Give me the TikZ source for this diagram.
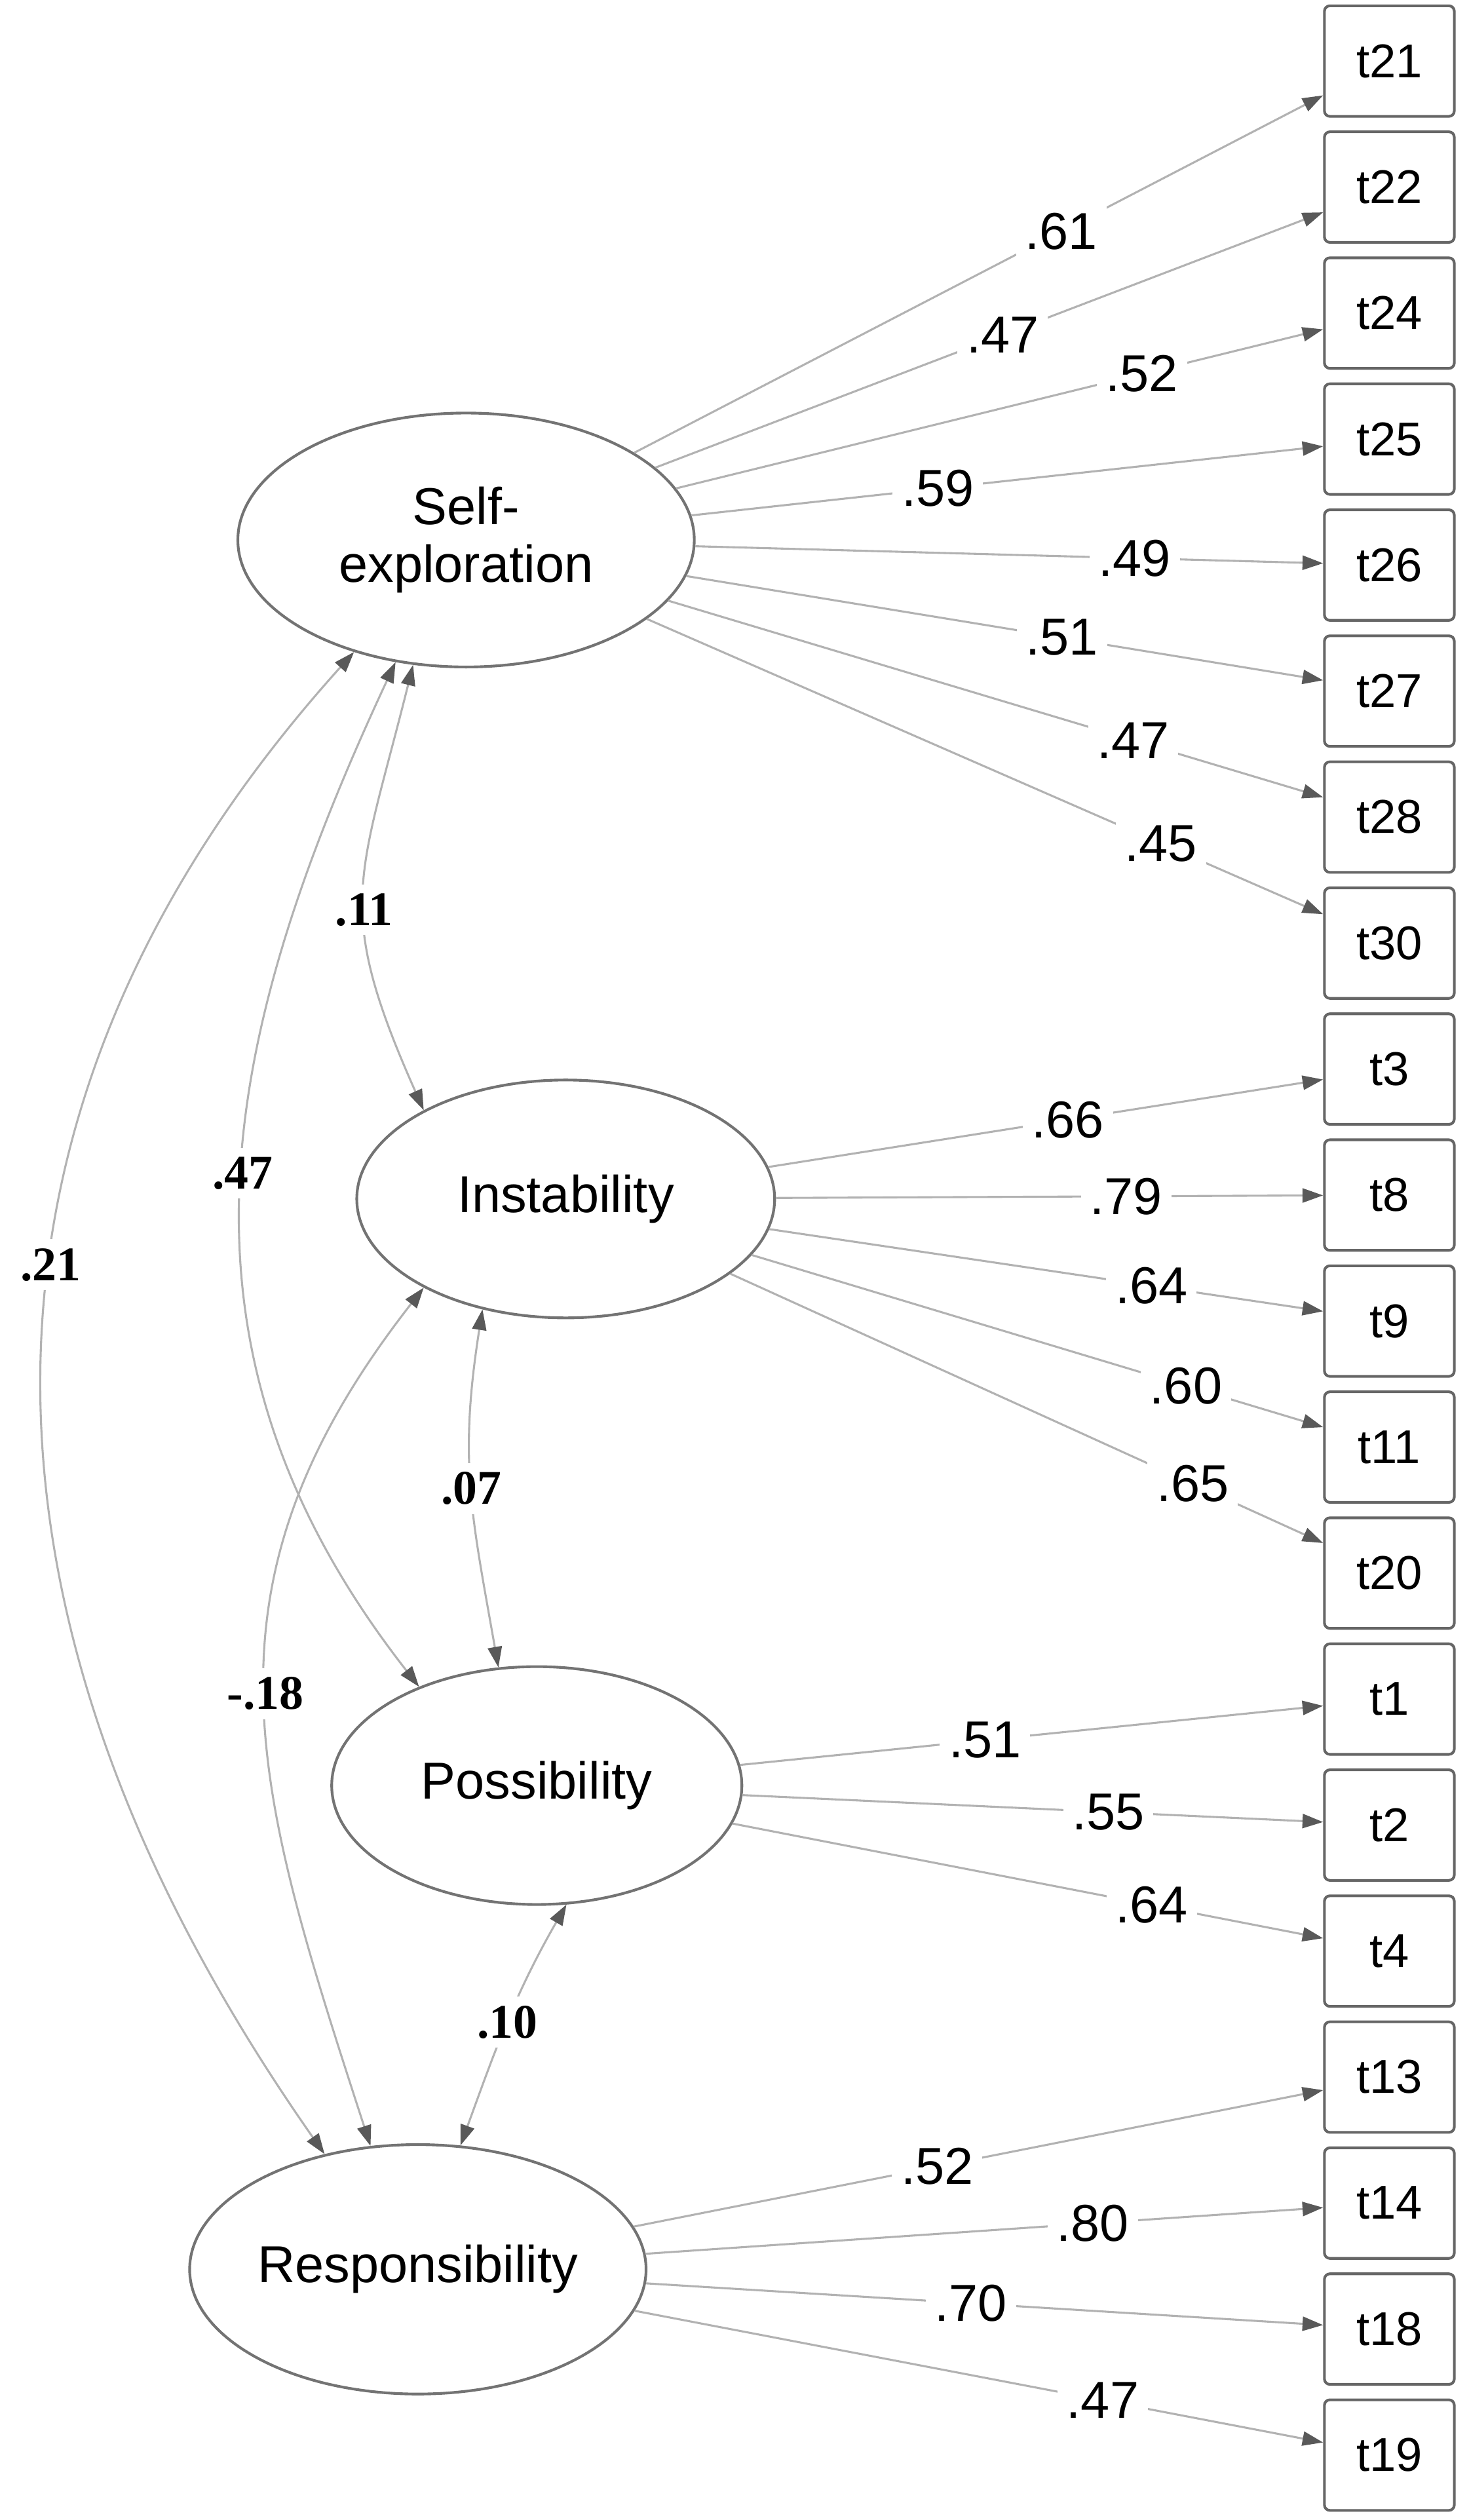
\documentclass[tikz,border=0pt]{standalone}
\usepackage{fontspec}
\setmainfont{Liberation Sans}
\newfontfamily\covfont{Liberation Serif}
\usetikzlibrary{arrows.meta,shapes.geometric}

\begin{document}
\begin{tikzpicture}[
        x=0.125mm, y=0.125mm,
        >={Triangle[length=1.6mm, width=1.1mm, color=black!65]},
        latent/.style={ellipse, draw=black!55, line width=0.6pt, inner sep=0pt, align=center, font=\fontsize{11.5}{12.8}\selectfont},
        item/.style={rectangle, rounded corners=1.2pt, draw=black!60, line width=0.6pt, minimum width=10.1mm, minimum height=8.6mm, inner sep=0pt, font=\fontsize{10.5}{12}\selectfont},
        load/.style={->, draw=black!30, line width=0.45pt},
        cov/.style={<->, draw=black!30, line width=0.45pt},
        lbl/.style={fill=white, inner sep=2pt, font=\fontsize{11.5}{13}\selectfont},
        covlbl/.style={fill=white, inner sep=2pt, font=\covfont\bfseries\fontsize{10.7}{12}\selectfont},
        ]
                \useasboundingbox (0,0) rectangle (914,-1568);

                % factors
                \node[latent, minimum width=35.5mm, minimum height=19.75mm] at(290,-336) (selfexp) {Self-\\exploration};
                \node[latent, minimum width=32.5mm, minimum height=18.5mm] at(352,-746) (instab) {Instability};
                \node[latent, minimum width=31.9mm, minimum height=18.5mm] at(334,-1111) (possib) {Possibility};
                \node[latent, minimum width=35.5mm, minimum height=19.4mm] at(260,-1412) (respon) {Responsibility};

                % items
                \node[item] at(864.5,-38) (t21) {t21};
                \node[item] at(864.5,-116.4) (t22) {t22};
                \node[item] at(864.5,-194.8) (t24) {t24};
                \node[item] at(864.5,-273.2) (t25) {t25};
                \node[item] at(864.5,-351.6) (t26) {t26};
                \node[item] at(864.5,-430) (t27) {t27};
                \node[item] at(864.5,-508.4) (t28) {t28};
                \node[item] at(864.5,-586.8) (t30) {t30};
                \node[item] at(864.5,-665.2) (t3) {t3};
                \node[item] at(864.5,-743.6) (t8) {t8};
                \node[item] at(864.5,-822) (t9) {t9};
                \node[item] at(864.5,-900.4) (t11) {t11};
                \node[item] at(864.5,-978.8) (t20) {t20};
                \node[item] at(864.5,-1057.2) (t1) {t1};
                \node[item] at(864.5,-1135.6) (t2) {t2};
                \node[item] at(864.5,-1214) (t4) {t4};
                \node[item] at(864.5,-1292.4) (t13) {t13};
                \node[item] at(864.5,-1370.8) (t14) {t14};
                \node[item] at(864.5,-1449.2) (t18) {t18};
                \node[item] at(864.5,-1527.6) (t19) {t19};

                % loadings
                \draw[load] (selfexp) -- node[lbl, pos=.62] {.61} (t21);
                \draw[load] (selfexp) -- node[lbl, pos=.52] {.47} (t22);
                \draw[load] (selfexp) -- node[lbl, pos=.72] {.52} (t24);
                \draw[load] (selfexp) -- node[lbl, pos=.39] {.59} (t25);
                \draw[load] (selfexp) -- node[lbl, pos=.70] {.49} (t26);
                \draw[load] (selfexp) -- node[lbl, pos=.59] {.51} (t27);
                \draw[load] (selfexp) -- node[lbl, pos=.71] {.47} (t28);
                \draw[load] (selfexp) -- node[lbl, pos=.76] {.45} (t30);

                \draw[load] (instab) -- node[lbl, pos=.54] {.66} (t3);
                \draw[load] (instab) -- node[lbl, pos=.64] {.79} (t8);
                \draw[load] (instab) -- node[lbl, pos=.69] {.64} (t9);
                \draw[load] (instab) -- node[lbl, pos=.76] {.60} (t11);
                \draw[load] (instab) -- node[lbl, pos=.78] {.65} (t20);

                \draw[load] (possib) -- node[lbl, pos=.42] {.51} (t1);
                \draw[load] (possib) -- node[lbl, pos=.63] {.55} (t2);
                \draw[load] (possib) -- node[lbl, pos=.71] {.64} (t4);

                \draw[load] (respon) -- node[lbl, pos=.44] {.52} (t13);
                \draw[load] (respon) -- node[lbl, pos=.66] {.80} (t14);
                \draw[load] (respon) -- node[lbl, pos=.48] {.70} (t18);
                \draw[load] (respon) -- node[lbl, pos=.68] {.47} (t19);

                % covariances
                \draw[cov] (selfexp.225) to[out=228, in=125, looseness=1.08] node[covlbl, pos=.42] {.21} (respon.129);
                \draw[cov] (selfexp.240) to[out=245, in=128, looseness=1.06] node[covlbl, pos=.48] {.47} (possib.140);
                \draw[cov] (selfexp.247) to[out=256, in=114, looseness=1.28] node[covlbl, pos=.55] {.11} (instab.148);
                \draw[cov] (instab.212) to[out=232, in=108, looseness=1.13] node[covlbl, pos=.5] {-.18} (respon.111);
                \draw[cov] (instab.233) to[out=261, in=100, looseness=1.1] node[covlbl, pos=.5] {.07} (possib.108);
                \draw[cov] (possib.284) to[out=240, in=70] node[covlbl, pos=.5] {.10} (respon.71);

            \end{tikzpicture}
\end{document}
